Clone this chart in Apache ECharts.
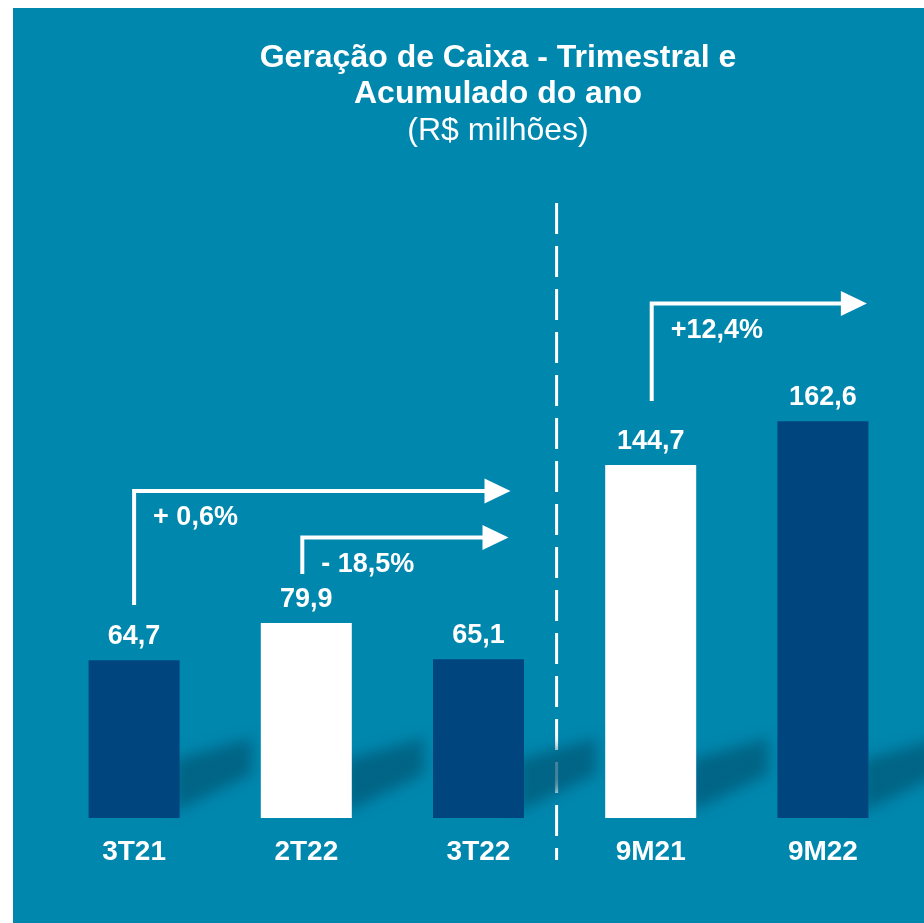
<!DOCTYPE html>
<html>
<head>
<meta charset="utf-8">
<script src="https://cdn.jsdelivr.net/npm/echarts@6/dist/echarts.min.js"></script>
<style>
  html, body { margin: 0; padding: 0; background: #fff; }
  #main { width: 924px; height: 923px; }
</style>
</head>
<body>
<div id="main"></div>
<script>
// dados do gráfico
const categories = ['3T21', '2T22', '3T22', '9M21', '9M22'];
const values = [64.7, 79.9, 65.1, 144.7, 162.6];
const barColors = ['#00457e', '#ffffff', '#00457e', '#ffffff', '#00457e'];
const changeLabels = ['+ 0,6%', '- 18,5%', '+12,4%'];
const arrowFrom = [0, 1, 3];
const arrowTo = [2, 2, 4];

const FONT = '"Liberation Sans", Arial, sans-serif';
const BG = '#0087ae';
const BAR_W = 91;
const SHIFT = 1500; // a forma fica fora da tela, só a sombra desfocada aparece

const chart = echarts.init(document.getElementById('main'));

function fmt(v) {
  return v.toFixed(1).replace('.', ',');
}

// sombra diagonal atrás de cada barra
function renderShadow(params, api) {
  const p = api.coord([api.value(0), 0]);
  const xr = p[0] + BAR_W / 2;
  const b = p[1] - SHIFT;
  return {
    type: 'polygon',
    shape: {
      points: [[xr - 6, b - 6], [xr - 6, b - 58], [xr + 72, b - 80], [xr + 72, b - 44]]
    },
    style: {
      fill: '#000',
      shadowBlur: 14,
      shadowOffsetY: SHIFT,
      shadowColor: 'rgba(0,90,120,0.75)'
    }
  };
}

const option = {
  backgroundColor: BG,
  animation: false,
  grid: { left: 48, right: 15, top: 86, bottom: 105 },
  xAxis: {
    type: 'category',
    data: categories,
    axisLine: { show: false },
    axisTick: { show: false },
    axisLabel: {
      color: '#fff',
      fontFamily: FONT,
      fontWeight: 'bold',
      fontSize: 28,
      margin: 20
    }
  },
  yAxis: {
    type: 'value',
    min: 0,
    max: 300,
    show: false,
    splitLine: { show: false }
  },
  series: [
    {
      type: 'custom',
      renderItem: renderShadow,
      data: categories.map((c, i) => [i]),
      encode: { x: 0 },
      clip: false,
      z: 1,
      silent: true
    },
    {
      type: 'bar',
      barWidth: BAR_W,
      z: 3,
      data: values.map((v, i) => ({ value: v, itemStyle: { color: barColors[i] } })),
      label: {
        show: true,
        position: 'top',
        distance: 10,
        color: '#fff',
        fontFamily: FONT,
        fontWeight: 'bold',
        fontSize: 27,
        formatter: p => fmt(p.value)
      }
    }
  ]
};

chart.setOption(option);

function drawOverlay() {
  const toPx = (c, v) => chart.convertToPixel({ gridIndex: 0 }, [c, v]);
  const els = [];

  // borda branca
  els.push({ type: 'rect', shape: { x: 0, y: 0, width: 924, height: 8 }, style: { fill: '#fff' } });
  els.push({ type: 'rect', shape: { x: 0, y: 0, width: 13, height: 923 }, style: { fill: '#fff' } });

  // título
  const titleLines = [
    { text: 'Geração de Caixa - Trimestral e', y: 58, weight: 'bold' },
    { text: 'Acumulado do ano', y: 94, weight: 'bold' },
    { text: '(R$ milhões)', y: 131, weight: 'normal' }
  ];
  titleLines.forEach(t => {
    els.push({
      type: 'text',
      style: {
        text: t.text, x: 498, y: t.y,
        fill: '#fff', font: t.weight + ' 32px ' + FONT,
        textAlign: 'center', textVerticalAlign: 'middle'
      }
    });
  });

  // linha tracejada entre trimestres e acumulado
  const xSep = (toPx(2, 0)[0] + toPx(3, 0)[0]) / 2 - 8;
  els.push({
    type: 'line',
    shape: { x1: xSep, y1: 203, x2: xSep, y2: 860 },
    style: { stroke: '#fff', lineWidth: 3, lineDash: [31, 12] }
  });

  // setas de variação (níveis no eixo y, deslocamentos em px)
  const arrowLayout = [
    { start: 87.3, level: 134.0, dx: 0, tip: 32 },
    { start: 100.0, level: 115.0, dx: -4, tip: 30 },
    { start: 170.9, level: 210.9, dx: 1, tip: 44 }
  ];
  changeLabels.forEach((lbl, i) => {
    const a = arrowLayout[i];
    const p0 = toPx(arrowFrom[i], a.start);
    const pl = toPx(arrowFrom[i], a.level);
    const x0 = p0[0] + a.dx;
    const yl = pl[1];
    const tipX = toPx(arrowTo[i], 0)[0] + a.tip;
    els.push({
      type: 'polyline',
      shape: { points: [[x0, p0[1]], [x0, yl], [tipX - 25, yl]] },
      style: { stroke: '#fff', lineWidth: 4, fill: null }
    });
    els.push({
      type: 'polygon',
      shape: { points: [[tipX - 26, yl - 12.5], [tipX, yl], [tipX - 26, yl + 12.5]] },
      style: { fill: '#fff' }
    });
    els.push({
      type: 'text',
      style: {
        text: lbl, x: x0 + 19, y: yl + 27,
        fill: '#fff', font: 'bold 27px ' + FONT,
        textAlign: 'left', textVerticalAlign: 'middle'
      }
    });
  });

  chart.setOption({ graphic: { elements: els } });
}

drawOverlay();
</script>
</body>
</html>
